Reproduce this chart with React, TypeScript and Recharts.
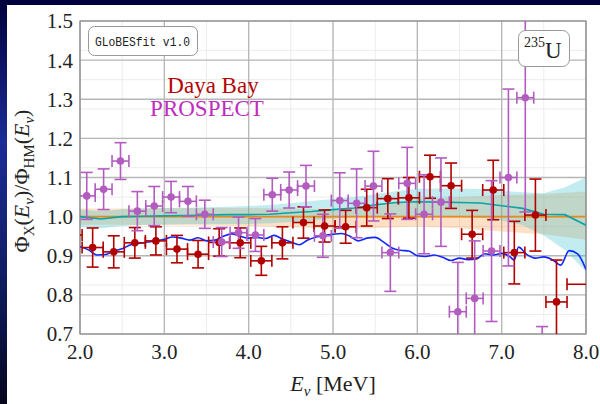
import React from "react";
import {
  ComposedChart,
  Area,
  Line,
  Scatter,
  ErrorBar,
  XAxis,
  YAxis,
  CartesianGrid,
  ReferenceArea,
} from "recharts";

const SERIF = "'Liberation Serif', 'DejaVu Serif', serif";
const MONO = "'Liberation Mono', 'DejaVu Sans Mono', monospace";

const WIDTH = 600;
const HEIGHT = 404;
const MARGIN = { top: 21, right: 14, bottom: 0, left: 0 };
const Y_AXIS_W = 80;
const X_AXIS_H = 70;

// axis ticks
const xTicks = [2, 3, 4, 5, 6, 7, 8];
const yTicks = [0.7, 0.8, 0.9, 1.0, 1.1, 1.2, 1.3, 1.4, 1.5];
const xMinor = Array.from({ length: 25 }, (_, i) => 2 + i * 0.25);
const yMinor = Array.from({ length: 33 }, (_, i) => 0.7 + i * 0.025);

// Daya Bay ratio to HM, 0.25 MeV bins (last bin is wide)
const dybEnergy = [1.9, 2.15, 2.4, 2.65, 2.9, 3.15, 3.4, 3.65, 3.9, 4.15, 4.4, 4.65, 4.9, 5.15, 5.4, 5.65, 5.9, 6.15, 6.4, 6.65, 6.9, 7.15, 7.4, 7.65, 8.15];
const dybRatio = [0.953, 0.921, 0.91, 0.933, 0.938, 0.917, 0.904, 0.934, 0.933, 0.887, 0.933, 0.985, 0.976, 0.974, 1.023, 1.046, 1.048, 1.102, 1.079, 0.955, 1.068, 0.908, 1.004, 0.782, 0.827];
const dybError = [0.045, 0.05, 0.041, 0.039, 0.036, 0.035, 0.035, 0.035, 0.038, 0.037, 0.041, 0.04, 0.041, 0.042, 0.047, 0.051, 0.052, 0.055, 0.058, 0.061, 0.076, 0.08, 0.092, 0.107, 0.11];
const dybHalfBin = [0.125, 0.125, 0.125, 0.125, 0.125, 0.125, 0.125, 0.125, 0.125, 0.125, 0.125, 0.125, 0.125, 0.125, 0.125, 0.125, 0.125, 0.125, 0.125, 0.125, 0.125, 0.125, 0.125, 0.125, 0.375];

// PROSPECT ratio to HM, 0.2 MeV bins
const prospectEnergy = [2.08, 2.28, 2.48, 2.68, 2.88, 3.08, 3.28, 3.48, 3.68, 3.88, 4.08, 4.28, 4.48, 4.68, 4.88, 5.08, 5.28, 5.48, 5.68, 5.88, 6.08, 6.28, 6.48, 6.68, 6.88, 7.08, 7.28, 7.48];
const prospectRatio = [1.053, 1.07, 1.142, 1.014, 1.027, 1.05, 1.039, 1.006, 0.935, 0.959, 0.953, 1.056, 1.068, 1.078, 0.951, 1.041, 1.034, 1.078, 0.908, 1.085, 1.006, 1.037, 0.757, 0.791, 0.912, 1.1, 1.304, 0.58];
const prospectError = [0.06, 0.052, 0.047, 0.05, 0.05, 0.04, 0.038, 0.036, 0.037, 0.04, 0.042, 0.042, 0.046, 0.053, 0.055, 0.071, 0.088, 0.089, 0.099, 0.092, 0.101, 0.113, 0.126, 0.147, 0.18, 0.226, 0.292, 0.139];
const prospectHalfBin = 0.1;

// oscillated model curve
const modelEnergy = [2.0, 2.1, 2.2, 2.3, 2.4, 2.5, 2.6, 2.7, 2.8, 2.9, 3.0, 3.1, 3.2, 3.3, 3.4, 3.5, 3.6, 3.7, 3.8, 3.9, 4.0, 4.1, 4.2, 4.3, 4.4, 4.5, 4.6, 4.7, 4.8, 4.9, 5.0, 5.1, 5.2, 5.3, 5.4, 5.5, 5.6, 5.7, 5.8, 5.9, 6.0, 6.1, 6.2, 6.3, 6.4, 6.5, 6.6, 6.7, 6.8, 6.9, 7.0, 7.1, 7.15, 7.2, 7.3, 7.4, 7.5, 7.6, 7.7, 7.8, 7.9, 8.0];
const modelRatio = [0.923, 0.915, 0.902, 0.903, 0.912, 0.918, 0.928, 0.932, 0.935, 0.938, 0.942, 0.948, 0.945, 0.94, 0.946, 0.938, 0.94, 0.95, 0.956, 0.95, 0.945, 0.947, 0.944, 0.952, 0.943, 0.935, 0.928, 0.94, 0.948, 0.952, 0.955, 0.957, 0.95, 0.938, 0.945, 0.947, 0.935, 0.92, 0.914, 0.912, 0.9, 0.898, 0.902, 0.896, 0.888, 0.894, 0.89, 0.892, 0.905, 0.902, 0.906, 0.897, 0.889, 0.922, 0.903, 0.894, 0.897, 0.89, 0.876, 0.913, 0.905, 0.865];

// global fit with 1 sigma band
const fitEnergy = [2.0, 2.25, 2.5, 2.75, 3.0, 3.25, 3.5, 3.75, 4.0, 4.25, 4.5, 4.75, 5.0, 5.25, 5.5, 5.75, 6.0, 6.25, 6.5, 6.75, 7.0, 7.25, 7.5, 7.75, 8.0];
const fitRatio = [1.0, 0.994, 1.0, 1.001, 1.002, 1.003, 1.004, 1.005, 1.005, 1.006, 1.01, 1.013, 1.018, 1.022, 1.03, 1.036, 1.038, 1.037, 1.036, 1.035, 1.028, 1.021, 1.006, 1.005, 0.978];
const fitLow = [0.974, 0.97, 0.976, 0.979, 0.98, 0.981, 0.981, 0.981, 0.981, 0.983, 0.986, 0.99, 0.995, 0.999, 1.0, 1.0, 1.0, 1.0, 0.999, 0.997, 0.99, 0.978, 0.952, 0.915, 0.86];
const fitHigh = [1.018, 1.014, 1.019, 1.021, 1.022, 1.023, 1.024, 1.025, 1.027, 1.03, 1.034, 1.04, 1.045, 1.05, 1.057, 1.065, 1.071, 1.072, 1.072, 1.07, 1.066, 1.062, 1.06, 1.075, 1.1];

// HM prediction band
const hmEnergy = [2.0, 2.5, 3.0, 3.5, 4.0, 4.5, 5.0, 5.5, 6.0, 6.5, 7.0, 7.5, 8.0];
const hmLow = [0.979, 0.979, 0.978, 0.977, 0.976, 0.973, 0.97, 0.97, 0.975, 0.97, 0.962, 0.955, 0.941];
const hmHigh = [1.021, 1.021, 1.022, 1.022, 1.022, 1.02, 1.018, 1.025, 1.045, 1.05, 1.055, 1.058, 1.064];

const dybPoints = dybEnergy.map((e, i) => ({ e, r: dybRatio[i], yErr: dybError[i], xErr: dybHalfBin[i] }));
const prospectPoints = prospectEnergy.map((e, i) => ({ e, r: prospectRatio[i], yErr: prospectError[i], xErr: prospectHalfBin }));
const modelLine = modelEnergy.map((e, i) => ({ e, r: modelRatio[i] }));
const fitLine = fitEnergy.map((e, i) => ({ e, r: fitRatio[i] }));
const fitBand = fitEnergy.map((e, i) => ({ e, band: [fitLow[i], fitHigh[i]] }));
const hmBand = hmEnergy.map((e, i) => ({ e, band: [hmLow[i], hmHigh[i]] }));
const hmLine = [{ e: 2, r: 1 }, { e: 8, r: 1 }];

const RED = "#b00000";
const PURPLE = "#b35cc0";

// plot rectangle, used to clip error bars that run past the axes
const plotX = MARGIN.left + Y_AXIS_W;
const plotY = MARGIN.top;
const plotW = WIDTH - plotX - MARGIN.right;
const plotH = HEIGHT - MARGIN.top - MARGIN.bottom - X_AXIS_H;

const dot = (color: string) => (p: any) => <circle cx={p.cx} cy={p.cy} r={3.8} fill={color} />;

export default function App() {
  const tick = { fontFamily: SERIF, fontSize: 21, fill: "#222" };
  return (
    <div style={{ position: "absolute", left: 0, top: 0, width: WIDTH, height: HEIGHT, background: "#fff", overflow: "hidden" }}>
      <style>{`.recharts-errorBars, .recharts-errorBar, .recharts-scatter { clip-path: url(#plot-clip); }`}</style>
      <svg width={0} height={0} style={{ position: "absolute" }}>
        <defs>
          <clipPath id="plot-clip" clipPathUnits="userSpaceOnUse">
            <rect x={plotX} y={plotY} width={plotW} height={plotH} />
          </clipPath>
        </defs>
      </svg>
      <div style={{ position: "absolute", left: 0, top: 0, width: WIDTH, height: 5, background: "#00003c" }} />
      <div
        style={{
          position: "absolute",
          left: 0,
          top: 0,
          width: 7,
          height: HEIGHT,
          background: "linear-gradient(#00003c, #1c2c96 35%, #101c60 70%, #06061c)",
        }}
      />
      <div style={{ position: "absolute", left: 0, top: 0 }}>
        <ComposedChart width={WIDTH} height={HEIGHT} margin={MARGIN}>
          <CartesianGrid verticalValues={xMinor} horizontalValues={yMinor} stroke="#ececec" strokeWidth={1} />
          <CartesianGrid verticalValues={xTicks} horizontalValues={yTicks} stroke="#b6b6b6" strokeWidth={1.3} />
          <XAxis
            type="number"
            dataKey="e"
            domain={[2, 8]}
            ticks={xTicks}
            allowDataOverflow
            height={X_AXIS_H}
            tickFormatter={(v: number) => v.toFixed(1)}
            tick={tick}
            tickLine={false}
            axisLine={false}
            tickSize={8}
            tickMargin={2}
          />
          <YAxis
            type="number"
            dataKey="r"
            domain={[0.7, 1.5]}
            ticks={yTicks}
            allowDataOverflow
            width={Y_AXIS_W}
            tickFormatter={(v: number) => v.toFixed(1)}
            tick={tick}
            tickLine={false}
            axisLine={false}
            tickSize={5}
            tickMargin={2}
          />
          <Area data={hmBand} dataKey="band" type="linear" stroke="none" fill="#f98e2c" fillOpacity={0.27} isAnimationActive={false} />
          <Area data={fitBand} dataKey="band" type="linear" stroke="none" fill="#36c0cc" fillOpacity={0.3} isAnimationActive={false} />
          <Line data={hmLine} dataKey="r" type="linear" stroke="#e8891c" strokeWidth={1.6} dot={false} isAnimationActive={false} />
          <Line data={fitLine} dataKey="r" type="linear" stroke="#05a5a8" strokeWidth={1.6} dot={false} isAnimationActive={false} />
          <Line data={modelLine} dataKey="r" type="monotone" stroke="#1028ff" strokeWidth={1.6} dot={false} isAnimationActive={false} />
          <Scatter data={dybPoints} fill={RED} shape={dot(RED)} isAnimationActive={false}>
            <ErrorBar dataKey="xErr" direction="x" stroke={RED} strokeWidth={1.6} width={6} />
            <ErrorBar dataKey="yErr" direction="y" stroke={RED} strokeWidth={1.6} width={6} />
          </Scatter>
          <Scatter data={prospectPoints} fill={PURPLE} shape={dot(PURPLE)} isAnimationActive={false}>
            <ErrorBar dataKey="xErr" direction="x" stroke={PURPLE} strokeWidth={1.6} width={6} />
            <ErrorBar dataKey="yErr" direction="y" stroke={PURPLE} strokeWidth={1.6} width={6} />
          </Scatter>
          <ReferenceArea x1={2} x2={8} y1={0.7} y2={1.5} fill="none" stroke="#8c8c8c" strokeWidth={1.2} ifOverflow="visible" />
        </ComposedChart>
      </div>
      <svg width={WIDTH} height={HEIGHT} style={{ position: "absolute", left: 0, top: 0, pointerEvents: "none" }} fontFamily={SERIF}>
        <rect x={88.5} y={26.5} width={109} height={29} rx={6} fill="#fff" stroke="#999" />
        <text x={95} y={45.5} fontFamily={MONO} fontSize={13.5} textLength={95} lengthAdjust="spacingAndGlyphs" fill="#222">
          GLoBESfit v1.0
        </text>
        <rect x={518.5} y={30.5} width={51} height={36} rx={7} fill="#fff" stroke="#999" />
        <text x={524} y={58} fill="#222">
          <tspan fontSize={14} dy={-11}>235</tspan>
          <tspan fontSize={23} dy={11}>U</tspan>
        </text>
        <text x={213} y={93} textAnchor="middle" fontSize={23} fill="#b30606">
          Daya Bay
        </text>
        <text x={207} y={116} textAnchor="middle" fontSize={23} fill="#c02cc0">
          PROSPECT
        </text>
        <text x={333} y={391} textAnchor="middle" fontSize={22} fill="#222">
          <tspan fontStyle="italic">E</tspan>
          <tspan fontStyle="italic" fontSize={15} dy={5}>ν</tspan>
          <tspan dy={-5}> [MeV]</tspan>
        </text>
        <text transform="translate(29,181) rotate(-90)" textAnchor="middle" fontSize={22} fill="#222">
          Φ<tspan fontSize={15} dy={5}>X</tspan>
          <tspan dy={-5}>(</tspan>
          <tspan fontStyle="italic">E</tspan>
          <tspan fontStyle="italic" fontSize={15} dy={5}>ν</tspan>
          <tspan dy={-5}>)/Φ</tspan>
          <tspan fontSize={15} dy={5}>HM</tspan>
          <tspan dy={-5}>(</tspan>
          <tspan fontStyle="italic">E</tspan>
          <tspan fontStyle="italic" fontSize={15} dy={5}>ν</tspan>
          <tspan dy={-5}>)</tspan>
        </text>
      </svg>
    </div>
  );
}
